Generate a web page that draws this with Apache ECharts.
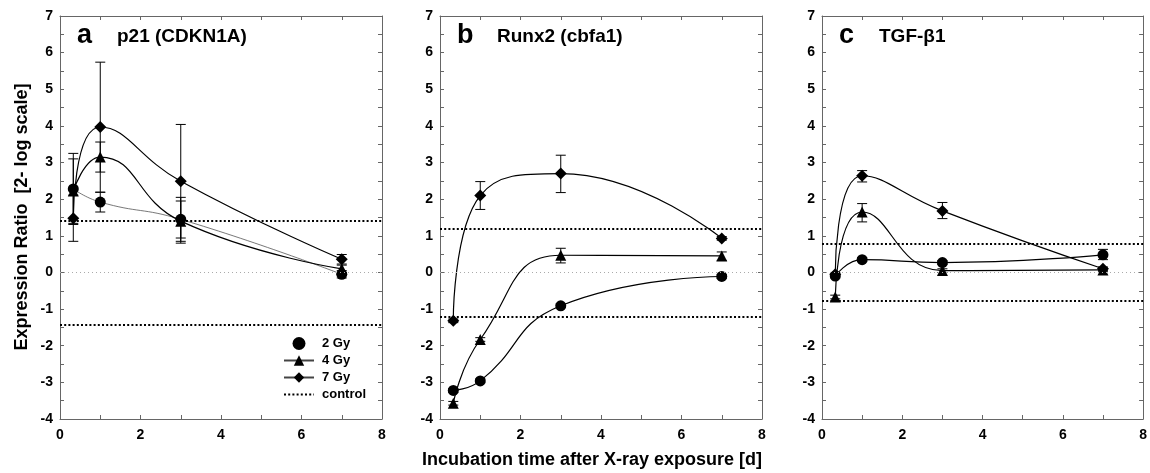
<!DOCTYPE html>
<html>
<head>
<meta charset="utf-8">
<script src="https://cdn.jsdelivr.net/npm/echarts@6/dist/echarts.min.js"></script>
<style>
  html, body { margin: 0; padding: 0; background: #fff; }
  #chart { width: 1150px; height: 473px; }
</style>
</head>
<body>
<div id="chart"></div>
<script>
// sampling times [d]
const days = [0.33, 1, 3, 7];

// panel titles
const panelLetters = ['a', 'b', 'c'];
const panelNames = ['p21 (CDKN1A)', 'Runx2 (cbfa1)', 'TGF-\u03b21'];

// expression ratios (2-log), one array per dose and gene
const p21Gy2 = [2.28, 1.92, 1.45, -0.05];
const p21Gy4 = [2.22, 3.15, 1.40, 0.10];
const p21Gy7 = [1.48, 3.97, 2.49, 0.36];
const runxGy2 = [-3.22, -2.96, -0.91, -0.11];
const runxGy4 = [-3.57, -1.83, 0.47, 0.45];
const runxGy7 = [-1.32, 2.10, 2.70, 0.93];
const tgfGy2 = [-0.10, 0.35, 0.27, 0.48];
const tgfGy4 = [-0.67, 1.65, 0.05, 0.07];
const tgfGy7 = [-0.05, 2.64, 1.68, 0.10];

// error bars: [low, high] per time point
const p21Err2 = [[1.31, 3.25], [1.65, 2.19], [0.85, 2.05], [-0.15, 0.05]];
const p21Err4 = [[1.34, 3.10], [2.74, 3.56], [0.80, 1.95], [0.00, 0.20]];
const p21Err7 = [[0.85, 2.11], [2.19, 5.74], [0.94, 4.04], [0.23, 0.49]];
const runxErr2 = [[-3.27, -3.17], [-3.01, -2.91], [-0.96, -0.86], [-0.16, -0.06]];
const runxErr4 = [[-3.62, -3.52], [-1.88, -1.78], [0.26, 0.66], [0.33, 0.56]];
const runxErr7 = [[-1.37, -1.27], [1.72, 2.48], [2.18, 3.20], [0.88, 0.98]];
const tgfErr2 = [[-0.15, -0.05], [0.30, 0.40], [0.22, 0.32], [0.35, 0.63]];
const tgfErr4 = [[-0.72, -0.62], [1.38, 1.88], [0.00, 0.10], [0.02, 0.12]];
const tgfErr7 = [[-0.10, 0.00], [2.47, 2.78], [1.47, 1.91], [0.05, 0.15]];

// control band (+/-) per panel
const controlLevels = [1.42, 1.20, 0.78];

const doseNames = ['2 Gy', '4 Gy', '7 Gy'];
const doseSymbols = ['circle', 'triangle', 'diamond'];
const doseSizes = [11, 11, 12];

const values = [
  [p21Gy2, p21Gy4, p21Gy7],
  [runxGy2, runxGy4, runxGy7],
  [tgfGy2, tgfGy4, tgfGy7]
];
const errors = [
  [p21Err2, p21Err4, p21Err7],
  [runxErr2, runxErr4, runxErr7],
  [tgfErr2, tgfErr4, tgfErr7]
];

const gridLefts = [60, 440, 822];
const gridTop = 16;
const gridW = 322;
const gridH = 403;
const font = 'Liberation Sans, Arial, sans-serif';
const axisColor = '#666';

const grids = [];
const xAxes = [];
const yAxes = [];
const series = [];
const graphics = [];

const makeX = (i, pos) => ({
  type: 'value', gridIndex: i, position: pos, min: 0, max: 8, interval: 2,
  axisLine: { onZero: false, lineStyle: { color: axisColor, width: 1 } },
  axisTick: { inside: true, length: 4, lineStyle: { color: axisColor } },
  minorTick: { show: true, splitNumber: 2, length: 4, lineStyle: { color: axisColor } },
  axisLabel: {
    show: pos === 'bottom', margin: 9, color: '#000',
    fontWeight: 'bold', fontSize: 14, fontFamily: font
  },
  splitLine: { show: false }
});

const makeY = (i, pos) => ({
  type: 'value', gridIndex: i, position: pos, min: -4, max: 7, interval: 1,
  axisLine: { onZero: false, lineStyle: { color: axisColor, width: 1 } },
  axisTick: { inside: true, length: 4, lineStyle: { color: axisColor } },
  minorTick: { show: true, splitNumber: 2, length: 4, lineStyle: { color: axisColor } },
  axisLabel: {
    show: pos === 'left', margin: 7, color: '#000',
    fontWeight: 'bold', fontSize: 14, fontFamily: font
  },
  splitLine: { show: false }
});

// error bar drawing with caps, through the axes' coord system
const renderErr = (params, api) => {
  const x = api.value(0);
  const lo = api.coord([x, api.value(1)]);
  const hi = api.coord([x, api.value(2)]);
  const cap = 5;
  const st = { stroke: '#000', lineWidth: 1 };
  return {
    type: 'group',
    children: [
      { type: 'line', shape: { x1: lo[0], y1: lo[1], x2: hi[0], y2: hi[1] }, style: st },
      { type: 'line', shape: { x1: lo[0] - cap, y1: lo[1], x2: lo[0] + cap, y2: lo[1] }, style: st },
      { type: 'line', shape: { x1: hi[0] - cap, y1: hi[1], x2: hi[0] + cap, y2: hi[1] }, style: st }
    ]
  };
};

for (let i = 0; i < 3; i++) {
  grids.push({ left: gridLefts[i], top: gridTop, width: gridW, height: gridH });

  for (let d = 0; d < 3; d++) {
    const thin = (i === 0 && d === 0);
    series.push({
      name: doseNames[d] + ' err',
      type: 'custom',
      xAxisIndex: i, yAxisIndex: i,
      renderItem: renderErr,
      encode: { x: 0, y: [1, 2] },
      data: days.map((t, k) => [t, errors[i][d][k][0], errors[i][d][k][1]]),
      z: 1,
      silent: true
    });
    series.push({
      name: doseNames[d],
      type: 'line',
      xAxisIndex: i, yAxisIndex: i,
      data: days.map((t, k) => [t, values[i][d][k]]),
      smooth: 0.5,
      symbol: doseSymbols[d],
      symbolSize: doseSizes[d],
      lineStyle: { color: thin ? '#555' : '#000', width: thin ? 0.8 : 1.2 },
      itemStyle: { color: '#000' },
      z: 3
    });
  }

  // control band and zero reference line
  series.push({
    name: 'control',
    type: 'line',
    xAxisIndex: i, yAxisIndex: i,
    data: [],
    symbol: 'none',
    lineStyle: { color: '#000', width: 2, type: [2, 2.2] },
    itemStyle: { color: '#000' },
    markLine: {
      silent: true,
      symbol: 'none',
      label: { show: false },
      animation: false,
      data: [
        { yAxis: controlLevels[i], lineStyle: { color: '#000', width: 2, type: [2, 2.2] } },
        { yAxis: -controlLevels[i], lineStyle: { color: '#000', width: 2, type: [2, 2.2] } },
        { yAxis: 0, lineStyle: { color: '#aaa', width: 1, type: [1, 3] } }
      ]
    }
  });

  xAxes.push(makeX(i, 'bottom'));
  yAxes.push(makeY(i, 'left'));

  graphics.push({
    type: 'text', left: gridLefts[i] + 17, top: 22,
    style: { text: panelLetters[i], font: 'bold 27px ' + font, fill: '#000' }
  });
  graphics.push({
    type: 'text', left: gridLefts[i] + 57, top: 27,
    style: { text: panelNames[i], font: 'bold 19px ' + font, fill: '#000' }
  });
}

// mirror axes on top/right to close the frames
for (let i = 0; i < 3; i++) {
  xAxes.push(makeX(i, 'top'));
  yAxes.push(makeY(i, 'right'));
}

graphics.push({
  type: 'text', x: 22, y: 217, rotation: Math.PI / 2,
  style: {
    text: 'Expression Ratio  [2- log scale]', font: 'bold 18px ' + font,
    fill: '#000', textAlign: 'center', textVerticalAlign: 'middle'
  }
});
graphics.push({
  type: 'text', x: 592, y: 460,
  style: {
    text: 'Incubation time after X-ray exposure [d]', font: 'bold 18px ' + font,
    fill: '#000', textAlign: 'center', textVerticalAlign: 'middle'
  }
});

const myChart = echarts.init(document.getElementById('chart'));
myChart.setOption({
  animation: false,
  grid: grids,
  xAxis: xAxes,
  yAxis: yAxes,
  legend: {
    orient: 'vertical',
    left: 283, top: 337,
    padding: 0,
    itemWidth: 30, itemHeight: 13, itemGap: 4,
    textStyle: { fontWeight: 'bold', fontSize: 13, fontFamily: font, color: '#000', padding: [0, 0, 0, 3] },
    data: [
      { name: '2 Gy', icon: 'circle' },
      { name: '4 Gy', lineStyle: { color: '#444' } },
      { name: '7 Gy', lineStyle: { color: '#444' } },
      { name: 'control', itemStyle: { opacity: 0 } }
    ],
    selectedMode: false
  },
  graphic: graphics,
  series: series
});
</script>
</body>
</html>
